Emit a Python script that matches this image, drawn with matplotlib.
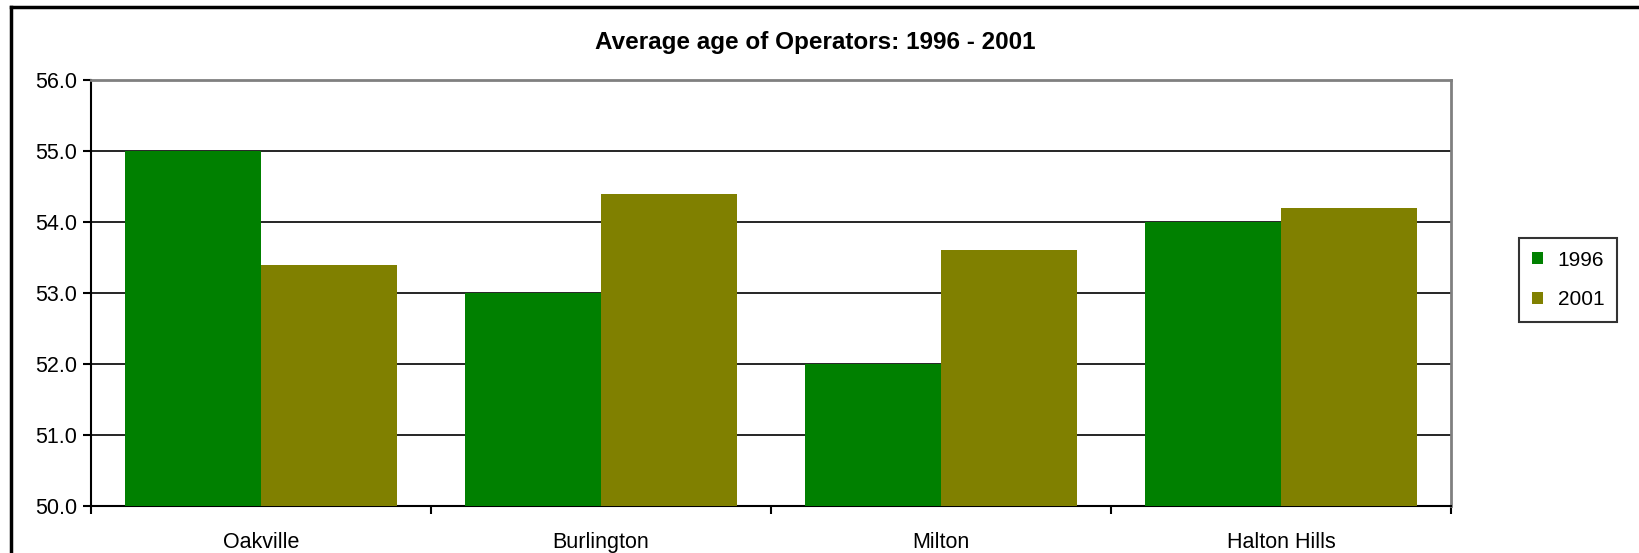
import matplotlib.pyplot as plt
import numpy as np
from matplotlib.lines import Line2D

plt.rcParams['font.family'] = ['Liberation Sans', 'DejaVu Sans']

towns = ["Oakville", "Burlington", "Milton", "Halton Hills"]
age_1996 = [55.0, 53.0, 52.0, 54.0]
age_2001 = [53.4, 54.4, 53.6, 54.2]

fig = plt.figure(figsize=(16.4, 5.53), dpi=100)
ax = fig.add_axes([91 / 1640, 1 - 506 / 553, 1360 / 1640, 426 / 553])

x = np.arange(len(towns))
w = 0.4
ax.bar(x - w / 2, np.array(age_1996) - 50, w, bottom=50, color='#008000', label='1996', zorder=3)
ax.bar(x + w / 2, np.array(age_2001) - 50, w, bottom=50, color='#808000', label='2001', zorder=3)

ax.set_xlim(-0.5, len(towns) - 0.5)
ax.set_ylim(50, 56)
yt = np.arange(50, 57, 1)
ax.set_yticks(yt)
ax.set_yticklabels([f"{v:.1f}" for v in yt], fontsize=15.5)
ax.set_xticks(np.arange(-0.5, len(towns), 1))
ax.set_xticklabels([])
ax.set_xticks(x, minor=True)
ax.set_xticklabels(towns, minor=True, fontsize=15.5)
ax.tick_params(axis='x', which='minor', length=0, pad=19)
ax.tick_params(axis='x', which='major', length=6, width=1.5, direction='out')
ax.tick_params(axis='y', length=6, width=1.5, direction='out', pad=4)
ax.yaxis.grid(True, color='black', linewidth=1.2, zorder=0)

ax.spines['left'].set_linewidth(1.5)
ax.spines['bottom'].set_linewidth(1.5)
for s in ['top', 'right']:
    ax.spines[s].set_color('#808080')
    ax.spines[s].set_linewidth(2)

fig.text(815 / 1640, 1 - 43 / 553, "Average age of Operators: 1996 - 2001",
         ha='center', va='center', fontsize=17.5, fontweight='bold')

leg = fig.legend(loc='center', bbox_to_anchor=(1568 / 1640, 1 - 280 / 553),
                 fontsize=15, frameon=True, fancybox=False, edgecolor='black',
                 handlelength=0.55, handleheight=0.55, handletextpad=0.7,
                 labelspacing=1.0, borderpad=0.6, borderaxespad=0)
leg.get_frame().set_linewidth(1.5)

# outer chart frame (left and top edges visible)
fig.add_artist(Line2D([11 / 1640, 11 / 1640], [0, 1 - 7 / 553], transform=fig.transFigure,
                      color='black', linewidth=2.5))
fig.add_artist(Line2D([11 / 1640, 1], [1 - 7 / 553, 1 - 7 / 553], transform=fig.transFigure,
                      color='black', linewidth=2.5))

fig.savefig("out.png", dpi=100)
